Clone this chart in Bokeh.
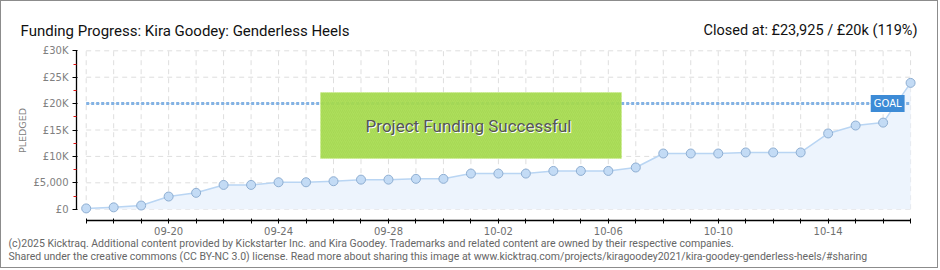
import math
from bokeh.plotting import figure
from bokeh.models import Range1d, FixedTicker, Label, BoxAnnotation
from bokeh.embed import file_html
from bokeh.resources import INLINE

# ---- data ----
dates = ["09-17", "09-18", "09-19", "09-20", "09-21", "09-22", "09-23", "09-24",
         "09-25", "09-26", "09-27", "09-28", "09-29", "09-30", "10-01", "10-02",
         "10-03", "10-04", "10-05", "10-06", "10-07", "10-08", "10-09", "10-10",
         "10-11", "10-12", "10-13", "10-14", "10-15", "10-16", "10-17"]
pledged = [150, 350, 700, 2400, 3100, 4600, 4600, 5100, 5100, 5300, 5600, 5600,
           5750, 5750, 6750, 6750, 6750, 7250, 7250, 7250, 7900, 10550, 10550,
           10550, 10750, 10750, 10750, 14350, 15850, 16400, 23925]
goal = 20000
y_ticks = [0, 5000, 10000, 15000, 20000, 25000, 30000]
y_tick_labels = ["£0", "£5,000", "£10K", "£15K", "£20K", "£25K", "£30K"]
y_minor = [2500, 7500, 12500, 17500, 22500, 27500]

n = len(dates)
xs = list(range(n))

FONT = "Roboto"
SMALL = "DejaVu Sans"

W, H = 938, 268
p = figure(width=W, height=H, output_backend="svg", toolbar_location=None,
           x_range=Range1d(-3.082, 31.052),
           y_range=Range1d(-11420, 39339),
           min_border_left=0, min_border_right=0,
           min_border_top=0, min_border_bottom=0,
           background_fill_color="white", border_fill_color="white",
           title=None)
p.styles = {"border": "1px solid #8c8c8c"}
p.outline_line_color = None
p.xgrid.visible = False
p.ygrid.visible = False

# grid lines (only inside data region)
top = y_ticks[-1]
p.segment(x0=xs, y0=[0] * n, x1=xs, y1=[top] * n,
          line_color="#dedede", line_width=1, line_dash="5 4")
p.segment(x0=[0] * len(y_ticks), y0=y_ticks, x1=[n - 1] * len(y_ticks), y1=y_ticks,
          line_color="#dedede", line_width=1, line_dash="5 4")

# area + goal + line + markers
p.varea(x=xs, y1=[0] * n, y2=pledged, fill_color="#edf4fd")
p.segment(x0=[0], y0=[goal], x1=[n - 1], y1=[goal],
          line_color="#82b2e4", line_width=3, line_dash="3 2")
p.line(xs, pledged, line_color="#b9d5f3", line_width=1.5)
p.scatter(xs, pledged, size=9, fill_color="#c3dbf5", line_color="#8eaed2", line_width=1)

# axes
xa = p.xaxis[0]
xa.fixed_location = -2140
xa.bounds = (0, n - 1)
xa.ticker = FixedTicker(ticks=xs)
xa.major_label_overrides = {i: (dates[i] if i % 4 == 3 else "") for i in xs}
xa.axis_line_color = "black"
xa.axis_line_width = 1.3
xa.major_tick_line_color = "black"
xa.major_tick_in = 2
xa.major_tick_out = 3
xa.minor_tick_line_color = None
xa.major_label_standoff = 3
xa.major_label_text_font = SMALL
xa.major_label_text_font_size = "10px"
xa.major_label_text_color = "#707070"

ya = p.yaxis[0]
ya.fixed_location = -0.353
ya.bounds = (0, top)
ya.ticker = FixedTicker(ticks=y_ticks, minor_ticks=y_minor)
ya.major_label_overrides = {t: l for t, l in zip(y_ticks, y_tick_labels)}
ya.axis_line_color = "black"
ya.axis_line_width = 1.3
ya.major_tick_line_color = "black"
ya.major_tick_in = 1
ya.major_tick_out = 4
ya.minor_tick_line_color = "#e01010"
ya.minor_tick_in = 0
ya.minor_tick_out = 3
ya.major_label_standoff = 4
ya.major_label_text_font = SMALL
ya.major_label_text_font_size = "10px"
ya.major_label_text_color = "#808080"

# success box
p.add_layout(BoxAnnotation(left=319, right=620, bottom=111, top=177,
                           left_units="screen", right_units="screen",
                           bottom_units="screen", top_units="screen",
                           fill_color="#a7dc50", fill_alpha=0.93,
                           line_color="#c9ee86", line_width=1,
                           hatch_pattern="right_diagonal_line", hatch_color="#9acd45",
                           hatch_alpha=0.35, hatch_scale=4))
p.add_layout(Label(x=468, y=143, x_units="screen", y_units="screen",
                   text="Project Funding Successful", text_font=FONT,
                   text_font_size="17px", text_color="white",
                   text_align="center", text_baseline="middle"))
p.add_layout(Label(x=467, y=144, x_units="screen", y_units="screen",
                   text="Project Funding Successful", text_font=FONT,
                   text_font_size="17px", text_color="#555555",
                   text_align="center", text_baseline="middle"))

# goal label
p.add_layout(Label(x=n - 1, y=goal, x_offset=-6, text="GOAL", text_font=SMALL,
                   text_font_size="10px", text_color="white",
                   text_align="right", text_baseline="middle",
                   background_fill_color="#3d8bd6", padding=3))

# titles / texts
p.add_layout(Label(x=19, y=239, x_units="screen", y_units="screen",
                   text="Funding Progress: Kira Goodey: Genderless Heels",
                   text_font=FONT, text_font_size="15px", text_color="#111111",
                   text_align="left", text_baseline="alphabetic"))
p.add_layout(Label(x=916, y=239, x_units="screen", y_units="screen",
                   text="Closed at: £23,925 / £20k (119%)",
                   text_font=FONT, text_font_size="14.5px", text_color="#111111",
                   text_align="right", text_baseline="alphabetic"))
p.add_layout(Label(x=21, y=139, x_units="screen", y_units="screen",
                   text="PLEDGED", angle=math.pi / 2, text_font=SMALL,
                   text_font_size="9.5px", text_color="#808080",
                   text_align="center", text_baseline="middle"))
p.add_layout(Label(x=7, y=26, x_units="screen", y_units="screen",
                   text="(c)2025 Kicktraq. Additional content provided by Kickstarter Inc. and Kira Goodey. Trademarks and related content are owned by their respective companies.",
                   text_font=FONT, text_font_size="10.5px", text_color="#666666",
                   text_align="left", text_baseline="middle"))
p.add_layout(Label(x=7, y=13, x_units="screen", y_units="screen",
                   text="Shared under the creative commons (CC BY-NC 3.0) license. Read more about sharing this image at www.kicktraq.com/projects/kiragoodey2021/kira-goodey-genderless-heels/#sharing",
                   text_font=FONT, text_font_size="10.5px", text_color="#666666",
                   text_align="left", text_baseline="middle"))

open("out.html", "w").write(file_html(p, INLINE))
